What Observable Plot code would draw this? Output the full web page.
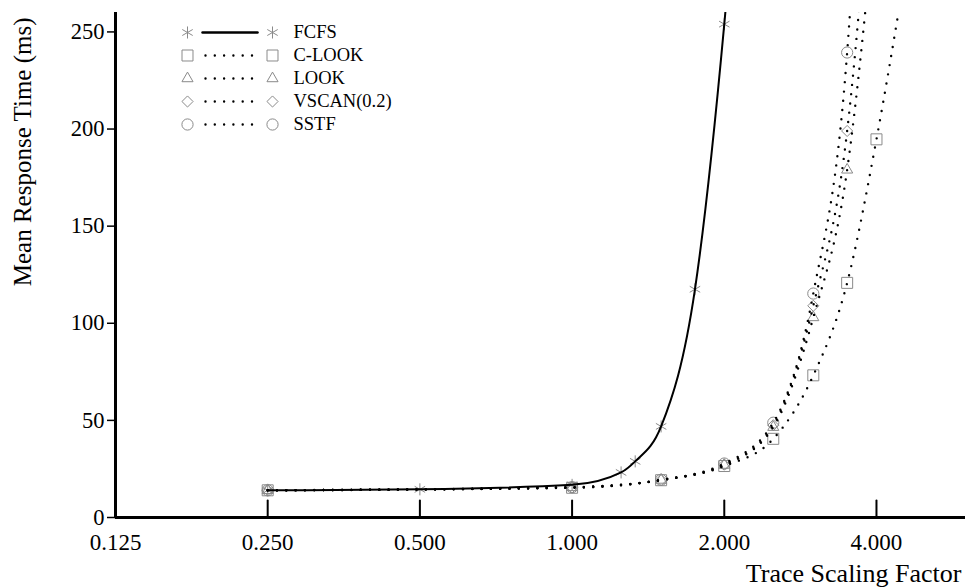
<!DOCTYPE html>
<html><head><meta charset="utf-8">
<script src="https://cdn.jsdelivr.net/npm/d3@7"></script>
<script src="https://cdn.jsdelivr.net/npm/@observablehq/plot@0.6"></script>
<style>body{margin:0;background:#fff}#chart{width:968px;height:587px}</style>
</head><body><div id="chart"></div>
<script>
// ---- data ----
const seriesNames = ["FCFS", "C-LOOK", "LOOK", "VSCAN(0.2)", "SSTF"];
const seriesSymbols = ["asterisk", "square2", "triangle2", "diamond2", "circle"];
const seriesRadius = [5.7, 7, 5.3, 5, 5.6];
const seriesDashed = [false, true, true, true, true];

const fcfsX = [0.25, 0.5, 1.0, 1.25, 1.333, 1.5, 1.75, 2.0, 2.25];
const fcfsY = [14.0, 14.5, 16.8, 23.2, 28.9, 46.9, 117.5, 254, 420];

const schedX = [0.25, 1.0, 1.5, 2.0, 2.5, 3.0, 3.5, 4.0, 4.5];
const clookY = [14.0, 15.3, 19.2, 26.5, 40.5, 73.2, 120.8, 194.7, 272];
const lookY  = [14.0, 15.5, 19.3, 27.0, 46.5, 103, 179, 320];
const vscanY = [14.0, 15.5, 19.3, 27.2, 47.5, 109, 199, 375];
const sstfY  = [14.0, 15.6, 19.4, 27.8, 48.8, 115.3, 239.4, 520];

const xTicks = [0.125, 0.25, 0.5, 1, 2, 4];
const yTicks = [0, 50, 100, 150, 200, 250];
const xLabel = "Trace Scaling Factor";
const yLabel = "Mean Response Time (ms)";

const yMax = 260;
const seriesX = [fcfsX, schedX, schedX, schedX, schedX];
const seriesY = [fcfsY, clookY, lookY, vscanY, sstfY];

const rows = seriesNames.map((name, i) =>
  seriesY[i].map((v, j) => ({name, x: seriesX[i][j], y: v}))
);

const markerColor = "#8a8a8a";
const dotted = {strokeDasharray: "0 9.3", strokeLinecap: "round", strokeWidth: 2.4};
const solid = {strokeWidth: 2};
const hLine = {draw(ctx, l) { ctx.moveTo(0, 0); ctx.lineTo(0, -l); }};

const marks = [];
// markers
seriesNames.forEach((name, i) => {
  marks.push(Plot.dot(rows[i].filter(d => d.y <= yMax), {
    x: "x", y: "y", symbol: seriesSymbols[i], r: seriesRadius[i],
    stroke: markerColor, strokeWidth: 1, fill: "none"
  }));
});
// lines
seriesNames.forEach((name, i) => {
  marks.push(Plot.line(rows[i], {
    x: "x", y: "y", curve: "monotone-x", stroke: "black", clip: true,
    ...(seriesDashed[i] ? dotted : solid)
  }));
});
// axes
marks.push(
  Plot.ruleY([0], {strokeWidth: 3}),
  Plot.ruleX([0.125], {strokeWidth: 3}),
  Plot.vector(xTicks, {x: d => d, frameAnchor: "bottom", length: 17, anchor: "start", shape: hLine, strokeWidth: 2}),
  Plot.axisY({ticks: yTicks, tickSize: 8, tickPadding: 3, fontSize: 22.5, label: null, strokeWidth: 1.5}),
  Plot.axisX({ticks: xTicks, tickFormat: d3.format(".3f"), tickSize: 0, tickPadding: 16, fontSize: 23, label: null}),
  Plot.text([yLabel], {text: d => d, frameAnchor: "top-left", rotate: -90, textAnchor: "end", lineAnchor: "middle", dx: -93, dy: 5, fontSize: 25}),
  Plot.text([xLabel], {text: d => d, frameAnchor: "bottom-right", textAnchor: "end", lineAnchor: "middle", dx: -4, dy: 56, fontSize: 26})
);
// legend
seriesNames.forEach((name, i) => {
  const dy = 20 + 23 * i;
  marks.push(
    Plot.dot([name], {frameAnchor: "top-left", dx: 72, dy, symbol: seriesSymbols[i], r: seriesRadius[i], stroke: markerColor, strokeWidth: 1, fill: "none"}),
    Plot.dot([name], {frameAnchor: "top-left", dx: 157, dy, symbol: seriesSymbols[i], r: seriesRadius[i], stroke: markerColor, strokeWidth: 1, fill: "none"}),
    Plot.vector([name], {frameAnchor: "top-left", dx: seriesDashed[i] ? 90 : 87, dy, length: seriesDashed[i] ? 52 : 55, rotate: 90, anchor: "start", shape: hLine,
      ...(seriesDashed[i] ? dotted : {strokeWidth: 2.5})}),
    Plot.text([name], {text: d => d, frameAnchor: "top-left", dx: 178, dy, textAnchor: "start", lineAnchor: "middle", fontSize: 18.5})
  );
});

const chart = Plot.plot({
  width: 968, height: 587,
  marginLeft: 115, marginRight: 3, marginTop: 12, marginBottom: 70,
  style: {fontFamily: "'Liberation Serif', 'DejaVu Serif', serif", background: "#fff", color: "#000"},
  x: {type: "log", base: 2, domain: [0.125, 6]},
  y: {domain: [0, yMax]},
  marks
});
document.getElementById("chart").append(chart);
</script></body></html>
